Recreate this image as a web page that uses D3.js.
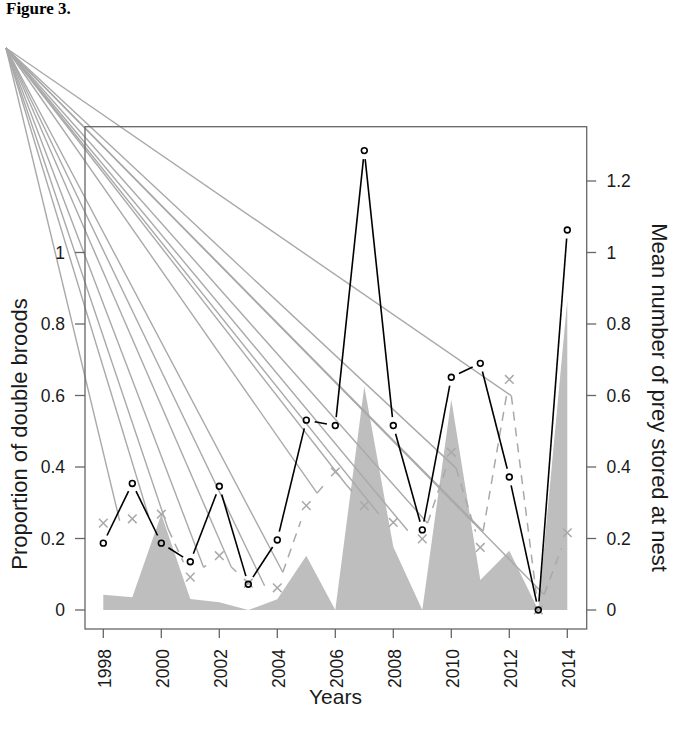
<!DOCTYPE html>
<html>
<head>
    <meta charset="utf-8">
    <script src="https://d3js.org/d3.v7.min.js"></script>
    <style>
        body { margin: 0; background: #fff; }
        svg { display: block; }
        text { font-family: "Liberation Sans", Arial, sans-serif; fill: #1a1a1a; }
    </style>
</head>
<body>
    <div id="chart">
        <svg width="673" height="735"></svg>
    </div>
    <script>
        // values
        var years = [1998, 1999, 2000, 2001, 2002, 2003, 2004, 2005, 2006, 2007, 2008, 2009, 2010, 2011, 2012, 2013, 2014]
        var preyStored = [0.187, 0.354, 0.187, 0.135, 0.346, 0.072, 0.196, 0.531, 0.516, 1.285, 0.516, 0.224, 0.651, 0.690, 0.372, 0, 1.063]
        var doubleBroods = [0.243, 0.255, 0.268, 0.092, 0.152, 0.075, 0.062, 0.292, 0.386, 0.292, 0.245, 0.199, 0.441, 0.175, 0.645, 0, 0.216]
        var shaded = [0.043, 0.036, 0.268, 0.031, 0.022, 0, 0.030, 0.152, 0, 0.625, 0.177, 0, 0.589, 0.084, 0.166, 0, 0.867]

        var yearTicks = [1998, 2000, 2002, 2004, 2006, 2008, 2010, 2012, 2014]
        var leftTicks = [0, 0.2, 0.4, 0.6, 0.8, 1]
        var leftLabels = ["0", "0.2", "0.4", "0.6", "0.8", "1"]
        var rightTicks = [0, 0.2, 0.4, 0.6, 0.8, 1, 1.2]
        var rightLabels = ["0", "0.2", "0.4", "0.6", "0.8", "1", "1.2"]

        var svg = d3.select("#chart svg")

        var box = { left: 85, right: 586.7, top: 126.7, bottom: 629 }
        var x = d3.scaleLinear().domain([1998, 2014]).range([103.3, 567.3])
        var y = d3.scaleLinear().domain([0, 1]).range([610, 252.5])

        // the stray lines of the original pdf all start here
        var origin = [6, 48]
        var grey = "#a9a9a9"

        svg.append("text")
            .attr("x", 6)
            .attr("y", 14)
            .style("font-family", "'Liberation Serif', 'Times New Roman', serif")
            .style("font-weight", "bold")
            .style("font-size", "17px")
            .style("fill", "#000")
            .text("Figure 3.")

        // shaded area
        var area = d3.area()
            .x(function(d, i) { return x(years[i]) })
            .y0(y(0))
            .y1(function(d) { return y(d) })
        svg.append("path")
            .datum(shaded)
            .attr("d", area)
            .attr("fill", "#bebebe")

        // helper: R type="b" style segments with a gap around each point
        function pts(vals) {
            return vals.map(function(v, i) { return [x(years[i]), y(v)] })
        }
        function gapped(p, g) {
            var segs = []
            for (var i = 0; i < p.length - 1; i++) {
                var dx = p[i + 1][0] - p[i][0], dy = p[i + 1][1] - p[i][1]
                var len = Math.sqrt(dx * dx + dy * dy)
                var ux = dx / len, uy = dy / len
                segs.push({
                    a: [p[i][0] + g * ux, p[i][1] + g * uy],
                    b: [p[i + 1][0] - g * ux, p[i + 1][1] - g * uy],
                    draw: len > 2 * g
                })
            }
            return segs
        }

        var greyPts = pts(doubleBroods)
        var greySegs = gapped(greyPts, 16.5)
        var blackPts = pts(preyStored)
        var blackSegs = gapped(blackPts, 8.5)

        // lines from the corner to each dashed segment start
        svg.selectAll(".ray")
            .data(greySegs)
            .enter()
            .append("line")
            .attr("class", "ray")
            .attr("x1", origin[0])
            .attr("y1", origin[1])
            .attr("x2", function(d) { return d.a[0] })
            .attr("y2", function(d) { return d.a[1] })
            .attr("stroke", grey)
            .attr("stroke-width", 1.4)

        // dashed grey series
        svg.selectAll(".dash")
            .data(greySegs.filter(function(d) { return d.draw }))
            .enter()
            .append("line")
            .attr("class", "dash")
            .attr("x1", function(d) { return d.a[0] })
            .attr("y1", function(d) { return d.a[1] })
            .attr("x2", function(d) { return d.b[0] })
            .attr("y2", function(d) { return d.b[1] })
            .attr("stroke", grey)
            .attr("stroke-width", 1.5)
            .attr("stroke-dasharray", "9,7")

        svg.selectAll(".cross")
            .data(greyPts)
            .enter()
            .append("path")
            .attr("class", "cross")
            .attr("d", function(d) {
                var s = 4.3
                return "M" + (d[0] - s) + "," + (d[1] - s) + "L" + (d[0] + s) + "," + (d[1] + s) +
                    "M" + (d[0] - s) + "," + (d[1] + s) + "L" + (d[0] + s) + "," + (d[1] - s)
            })
            .attr("stroke", grey)
            .attr("stroke-width", 1.5)
            .attr("fill", "none")

        // black series with open circles
        svg.selectAll(".seg")
            .data(blackSegs.filter(function(d) { return d.draw }))
            .enter()
            .append("line")
            .attr("class", "seg")
            .attr("x1", function(d) { return d.a[0] })
            .attr("y1", function(d) { return d.a[1] })
            .attr("x2", function(d) { return d.b[0] })
            .attr("y2", function(d) { return d.b[1] })
            .attr("stroke", "#000")
            .attr("stroke-width", 1.6)

        svg.selectAll(".dot")
            .data(blackPts)
            .enter()
            .append("circle")
            .attr("class", "dot")
            .attr("cx", function(d) { return d[0] })
            .attr("cy", function(d) { return d[1] })
            .attr("r", 2.9)
            .attr("fill", "none")
            .attr("stroke", "#000")
            .attr("stroke-width", 1.6)

        // frame
        svg.append("rect")
            .attr("x", box.left)
            .attr("y", box.top)
            .attr("width", box.right - box.left)
            .attr("height", box.bottom - box.top)
            .attr("fill", "none")
            .attr("stroke", "#666")
            .attr("stroke-width", 1.3)

        // bottom axis
        var xa = svg.append("g")
        xa.selectAll("line")
            .data(yearTicks)
            .enter()
            .append("line")
            .attr("x1", function(d) { return x(d) })
            .attr("x2", function(d) { return x(d) })
            .attr("y1", box.bottom)
            .attr("y2", box.bottom + 9)
            .attr("stroke", "#666")
            .attr("stroke-width", 1.3)
        xa.selectAll("text")
            .data(yearTicks)
            .enter()
            .append("text")
            .attr("transform", function(d) { return "translate(" + (x(d) + 1.5) + "," + (box.bottom + 20) + ") rotate(-90)" })
            .attr("text-anchor", "end")
            .attr("dy", "0.36em")
            .style("font-size", "17.5px")
            .text(function(d) { return d })

        // left axis
        var la = svg.append("g")
        la.selectAll("line")
            .data(leftTicks)
            .enter()
            .append("line")
            .attr("x1", box.left - 10)
            .attr("x2", box.left)
            .attr("y1", function(d) { return y(d) })
            .attr("y2", function(d) { return y(d) })
            .attr("stroke", "#666")
            .attr("stroke-width", 1.3)
        la.selectAll("text")
            .data(leftTicks)
            .enter()
            .append("text")
            .attr("x", 65)
            .attr("y", function(d) { return y(d) })
            .attr("dy", "0.36em")
            .attr("text-anchor", "end")
            .style("font-size", "17.5px")
            .text(function(d, i) { return leftLabels[i] })

        // right axis
        var ra = svg.append("g")
        ra.selectAll("line")
            .data(rightTicks)
            .enter()
            .append("line")
            .attr("x1", box.right)
            .attr("x2", box.right + 9.5)
            .attr("y1", function(d) { return y(d) })
            .attr("y2", function(d) { return y(d) })
            .attr("stroke", "#666")
            .attr("stroke-width", 1.3)
        ra.selectAll("text")
            .data(rightTicks)
            .enter()
            .append("text")
            .attr("x", 606.5)
            .attr("y", function(d) { return y(d) })
            .attr("dy", "0.36em")
            .style("font-size", "17.5px")
            .text(function(d, i) { return rightLabels[i] })

        // axis titles
        svg.append("text")
            .attr("x", 335.5)
            .attr("y", 704)
            .attr("text-anchor", "middle")
            .style("font-size", "21px")
            .text("Years")

        svg.append("text")
            .attr("transform", "translate(27,434) rotate(-90)")
            .attr("text-anchor", "middle")
            .style("font-size", "22px")
            .text("Proportion of double broods")

        svg.append("text")
            .attr("transform", "translate(652,397.5) rotate(90)")
            .attr("text-anchor", "middle")
            .style("font-size", "22px")
            .text("Mean number of prey stored at nest")
    </script>
</body>
</html>
